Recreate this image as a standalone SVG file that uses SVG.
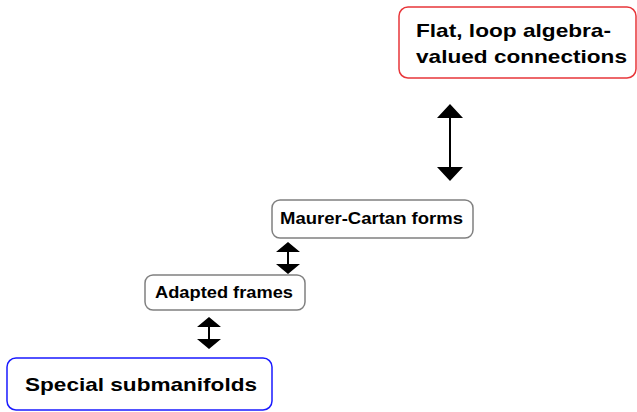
<svg xmlns="http://www.w3.org/2000/svg" width="637" height="412" viewBox="0 0 637 412">
<style>
.box{fill:#fff;stroke-width:1.5}
.t{font-family:"Liberation Sans",Arial,sans-serif;font-weight:bold;fill:#000}
.big{font-size:19px}
.small{font-size:16.5px}
.conn line{stroke:#000;stroke-width:2}
</style>
<rect width="637" height="412" fill="#fff"/>
<g id="flat">
<rect class="box" x="399" y="7" width="237" height="71" rx="9" stroke="#e8363a"/>
<text class="t big" x="416" y="37" textLength="195" lengthAdjust="spacingAndGlyphs">Flat, loop algebra-</text>
<text class="t big" x="416" y="63" textLength="211" lengthAdjust="spacingAndGlyphs">valued connections</text>
</g>
<g id="maurer">
<rect class="box" x="272" y="200" width="201" height="38" rx="8" stroke="#808080"/>
<text class="t small" x="280" y="224" textLength="183" lengthAdjust="spacingAndGlyphs">Maurer-Cartan forms</text>
</g>
<g id="adapted">
<rect class="box" x="145" y="275" width="160" height="35" rx="8" stroke="#808080"/>
<text class="t small" x="155" y="298" textLength="138" lengthAdjust="spacingAndGlyphs">Adapted frames</text>
</g>
<g id="special">
<rect class="box" x="7" y="358" width="265" height="52" rx="9" stroke="#1a1aff" stroke-width="2"/>
<text class="t big" x="25" y="390.5" textLength="232" lengthAdjust="spacingAndGlyphs">Special submanifolds</text>
</g>
<g class="conn">
<path d="M450,104 L463,118 L437,118 z M450,181 L463,167 L437,167 z" fill="#000"/>
<line x1="450" y1="117" x2="450" y2="168"/>
<path d="M288,242 L300,252 L276,252 z M288,274 L300,264 L276,264 z" fill="#000"/>
<line x1="288" y1="251" x2="288" y2="265"/>
<path d="M209,317 L221,327 L197,327 z M209,349 L221,339 L197,339 z" fill="#000"/>
<line x1="209" y1="326" x2="209" y2="340"/>
</g>
</svg>
